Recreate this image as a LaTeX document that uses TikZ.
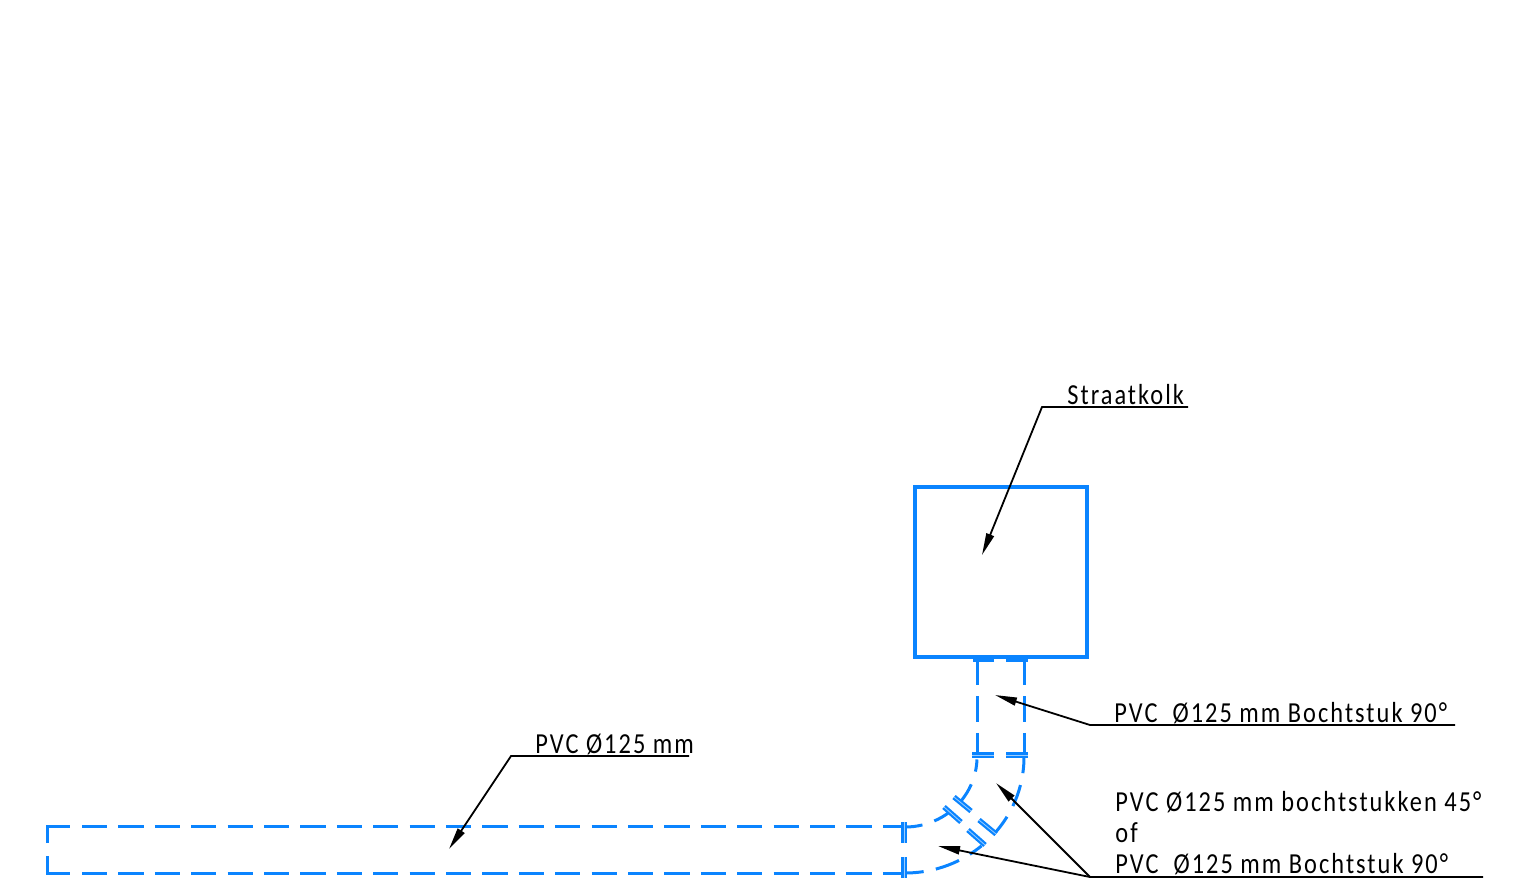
\documentclass[tikz,border=0pt]{standalone}
\usepackage{fontspec}
\usepackage{xcolor}
\usetikzlibrary{arrows.meta}
\newfontfamily\isofont[LetterSpace=7,FakeStretch=0.84,WordSpace=1.0]{Carlito}
\definecolor{pipeblue}{HTML}{0A84FF}
\definecolor{flangelight}{HTML}{9CCEFF}

\begin{document}
\begin{tikzpicture}
    [   x = 0.5pt
    ,   y = -0.5pt
    ,   pipe/.style=
        {   draw = pipeblue
        ,   line width = 1.5pt
        }
    ,   pipedash/.style=
        {   pipe
        ,   dash pattern = on 12.6pt off 5.6pt
        }
    ,   kolk/.style=
        {   draw = pipeblue
        ,   line width = 2pt
        ,   minimum width = 86pt
        ,   minimum height = 85pt
        ,   inner sep = 0pt
        }
    ,   flange/.style=
        {   draw = pipeblue
        ,   line width = 1.1pt
        ,   double = flangelight
        ,   double distance = 0.4pt
        }
    ,   leader/.style=
        {   draw = black
        ,   line width = 0.9pt
        }
    ,   tag/.style=
        {   anchor = base west
        ,   inner sep = 0pt
        ,   node font = \fontsize{14.5}{14.5}\selectfont\isofont
        }
    ,   > = {Stealth[length=11pt,width=4pt,inset=0pt]}
    ]
    \useasboundingbox (0,0) rectangle (1530,891);
    \node[kolk] (K) at (1001,572) {};

    % standing pipe
    \foreach \px in {977,1024}
    {   \draw[pipedash] (\px,660) -- (\px,754);
    }
    \draw[pipe] (973,660) -- (994,660);
    \draw[pipe] (1006,660) -- (1028,660);
    \draw[flange] (972,755) -- (994,755);
    \draw[flange] (1006,755) -- (1028,755);

    % bends
    \foreach \a/\b in {2/12,23/39,52/66,76/90}
    {   \draw[pipe] ({905+72*cos(\a)},{757+70*sin(\a)})
            arc[start angle=\a,end angle=\b,x radius=72,y radius=70];
    }
    \foreach \a/\b in {0/8,14/25,31/42,50/57,63/75,81/90}
    {   \draw[pipe] ({905+119*cos(\a)},{757+116*sin(\a)})
            arc[start angle=\a,end angle=\b,x radius=119,y radius=116];
    }
    \draw[flange] (954,797) -- (971,811);
    \draw[flange] (944,807) -- (961,822);
    \draw[flange] (979,820) -- (996,834);
    \draw[flange] (968,830) -- (985,845);

    % long pipe
    \draw[pipe] (47,843) -- (47,826.5) -- (70,826.5);
    \draw[pipe] (47,856) -- (47,873) -- (70,873);
    \draw[pipedash] (82,826.5) -- (905,826.5);
    \draw[pipedash] (82,873) -- (905,873);
    \draw[flange] (904,822) -- (904,843);
    \draw[flange] (904,857) -- (904,878);

    % labels
    \node[tag] (straat) at (1067,404) {Straatkolk};
    \node[tag] (bocht) at (1114,722) {PVC\ \ Ø125 mm Bochtstuk 90°};
    \node[tag] (buis) at (535,753) {PVC Ø125 mm};
    \node[tag] (stuk) at (1115,811) {PVC Ø125 mm bochtstukken 45°};
    \node[tag] (of) at (1115,842) {of};
    \node[tag] (stuktwee) at (1115,873) {PVC\ \ Ø125 mm Bochtstuk 90°};

    % leaders
    \coordinate (straatE) at (1042,407);
    \coordinate (straatR) at (1188,407);
    \coordinate (straatT) at (982,555);
    \coordinate (bochtE) at (1090,725);
    \coordinate (bochtR) at (1455,725);
    \coordinate (bochtT) at (995,695);
    \coordinate (buisE) at (511,756);
    \coordinate (buisR) at (689,756);
    \coordinate (buisT) at (449,849);
    \coordinate (stukE) at (1090,877);
    \coordinate (stukR) at (1483,877);
    \coordinate (stukT) at (996,783);
    \coordinate (stukB) at (938,846);
    \draw[leader,->] (straatR) -- (straatE) -- (straatT);
    \draw[leader,->] (bochtR) -- (bochtE) -- (bochtT);
    \draw[leader,->] (buisR) -- (buisE) -- (buisT);
    \draw[leader,->] (stukR) -- (stukE) -- (stukT);
    \draw[leader,->] (stukE) -- (stukB);
\end{tikzpicture}
\end{document}
